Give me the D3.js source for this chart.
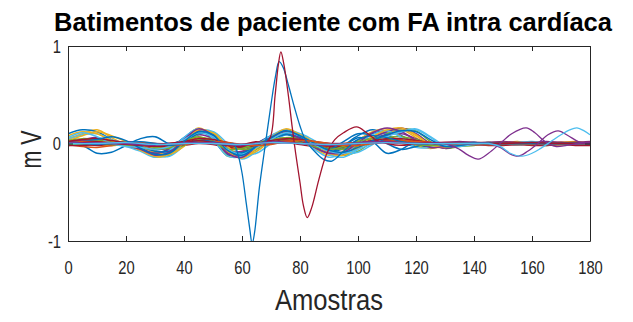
<!DOCTYPE html>
<html>
<head>
<meta charset="utf-8">
<script src="https://cdn.jsdelivr.net/npm/d3@7"></script>
<style>
  body { margin: 0; background: #fff; }
  text { font-family: "Liberation Sans", Arial, sans-serif; }
</style>
</head>
<body>
<svg id="chart" width="633" height="322"></svg>
<script>
// amostras (eixo x) comuns a todos os batimentos normais
var sampleX = [0,5,10,15,20,25,30,35,40,45,50,55,60,65,70,75,80,85,90,95,100,105,110,115,120,125,130,135,140,145,150,155,160,165,170,175,180];

var xTicks = [0,20,40,60,80,100,120,140,160,180];
var yTicks = [-1,0,1];

// batimentos "planos" perto de zero
var flat01 = [0.0,0.0,-0.01,-0.01,0.0, 0.0,-0.02,-0.02,0.0,0.02, 0.01,-0.02,-0.02,0.0,0.02, 0.03,0.01,-0.01,-0.03,-0.02, 0.0,0.02,0.03,0.02,0.0, -0.01,0.0,0.0,0.0,0.0, 0.0,0.0,0.0,0.0,0.0, 0.0,0.0];
var flat02 = [0.02,0.02,0.01,0.01,0.02, 0.01,0.0,0.0,0.02,0.03, 0.02,0.0,-0.01,0.01,0.02, 0.04,0.03,0.01,0.0,0.0, 0.01,0.02,0.03,0.03,0.02, 0.01,0.01,0.02,0.01,0.01, 0.02,0.01,0.01,0.02,0.01, 0.01,0.02];
var flat03 = [-0.02,-0.01,-0.02,-0.02,-0.01, -0.02,-0.03,-0.03,-0.02,0.0, -0.01,-0.04,-0.04,-0.02,0.0, 0.01,-0.01,-0.03,-0.04,-0.03, -0.02,0.0,0.01,0.0,-0.02, -0.03,-0.02,-0.02,-0.01,-0.02, -0.02,-0.01,-0.02,-0.02,-0.01, -0.02,-0.02];
var flat04 = [0.01,0.03,0.02,0.0,-0.01, -0.03,-0.05,-0.04,0.01,0.06, 0.03,-0.04,-0.05,-0.01,0.03, 0.06,0.03,-0.02,-0.05,-0.04, 0.0,0.04,0.06,0.04,0.01, -0.02,-0.01,0.0,0.0,0.01, 0.0,0.0,0.01,0.0,0.0, 0.01,0.0];
var flat05 = [0.0,0.01,0.03,0.02,0.01, 0.0,-0.02,-0.03,-0.01,0.03, 0.04,0.0,-0.04,-0.03,0.0, 0.04,0.04,0.01,-0.02,-0.04, -0.03,0.01,0.04,0.05,0.03, 0.0,-0.01,0.0,0.0,0.0, -0.01,0.0,0.0,0.0,-0.01, 0.0,0.0];
var flat06 = [-0.01,-0.03,-0.04,-0.02,0.0, 0.01,0.0,-0.01,0.0,0.02, 0.01,-0.01,-0.02,0.0,0.01, 0.02,0.01,0.0,-0.01,-0.01, 0.0,0.01,0.02,0.01,0.0, 0.0,0.0,-0.01,0.0,0.0, 0.0,-0.01,0.0,0.0,0.0, 0.0,-0.01];
var flat07 = [0.03,0.05,0.04,0.02,0.01, -0.01,-0.04,-0.05,-0.02,0.04, 0.05,-0.01,-0.06,-0.04,0.02, 0.06,0.05,0.0,-0.04,-0.06, -0.03,0.02,0.06,0.07,0.04, 0.0,-0.02,-0.01,0.0,0.0, 0.0,0.0,0.0,0.0,0.0, 0.0,0.0];
var flat08 = [0.01,0.0,0.01,0.0,-0.01, -0.01,-0.02,0.0,0.01,0.02, 0.0,-0.02,-0.01,0.0,0.01, 0.02,0.0,-0.01,-0.02,0.0, 0.01,0.01,0.02,0.0,0.0, 0.0,0.01,0.0,-0.01,0.0, 0.01,0.0,-0.01,0.0,0.01, 0.0,0.0];
var flat09 = [-0.01,0.0,0.0,-0.01,-0.02, -0.04,-0.06,-0.04,0.02,0.07, 0.02,-0.06,-0.05,0.0,0.04, 0.05,0.01,-0.03,-0.06,-0.03, 0.02,0.05,0.05,0.02,-0.01, -0.02,-0.01,0.0,0.0,0.0, 0.0,0.0,0.0,0.0,0.0, 0.0,0.0];
var flat10 = [0.0,0.02,0.02,0.01,0.0, -0.01,-0.01,-0.02,-0.01,0.01, 0.02,0.01,-0.01,-0.02,-0.01, 0.02,0.03,0.02,0.0,-0.02, -0.02,0.0,0.02,0.03,0.02, 0.01,0.0,0.0,0.0,0.0, 0.0,0.0,0.0,0.0,0.0, 0.0,0.0];
var flat11 = [0.01,0.01,0.0,0.0,0.0, -0.01,-0.03,-0.03,0.0,0.04, 0.02,-0.03,-0.04,-0.01,0.02, 0.04,0.02,-0.02,-0.04,-0.03, 0.0,0.03,0.04,0.03,0.01, -0.01,-0.01,0.0,0.0,0.0, 0.0,0.0,0.0,0.0,0.0, 0.0,0.0];
var flat12 = [-0.02,-0.02,-0.01,0.0,0.0, 0.0,-0.01,-0.02,-0.01,0.01, 0.0,-0.02,-0.03,-0.02,0.0, 0.02,0.01,-0.01,-0.03,-0.03, -0.01,0.01,0.02,0.02,0.0, -0.01,-0.01,-0.01,-0.01,0.0, -0.01,-0.01,0.0,-0.01,-0.01, 0.0,-0.01];
var flat13 = [0.02,0.04,0.05,0.03,0.01, 0.0,-0.01,0.0,0.02,0.05, 0.04,0.01,-0.02,0.0,0.03, 0.05,0.04,0.02,0.0,-0.01, 0.0,0.03,0.05,0.05,0.03, 0.01,0.01,0.01,0.01,0.01, 0.01,0.01,0.01,0.01,0.01, 0.01,0.01];

// batimentos com oscilação de FA
var osc01 = [0.02,0.03,0.01,-0.01,-0.02, -0.06,-0.11,-0.07,0.05,0.14, 0.06,-0.11,-0.09,0.0,0.08, 0.12,0.04,-0.04,-0.09,-0.05, 0.04,0.1,0.13,0.08,0.0, -0.04,-0.02,0.0,0.01,0.0, 0.01,0.0,-0.01,0.01,0.0, 0.0,0.01];
var osc02 = [0.05,0.1,0.14,0.06,-0.01, -0.04,-0.09,-0.1,0.02,0.12, 0.08,-0.08,-0.12,-0.02,0.06, 0.1,0.05,-0.02,-0.08,-0.1, -0.02,0.07,0.12,0.14,0.06, -0.03,-0.04,-0.01,0.0,0.01, 0.0,0.02,-0.01,0.0,0.01, 0.02,0.0];
var osc03 = [0.0,0.02,0.04,0.02,0.0, -0.05,-0.13,-0.12,0.0,0.11, 0.1,-0.05,-0.14,-0.06,0.04, 0.11,0.08,0.0,-0.06,-0.12, -0.08,0.02,0.1,0.15,0.13, 0.02,-0.05,-0.03,-0.02,0.0, 0.01,-0.01,0.0,-0.02,0.0, 0.01,-0.01];
var osc04 = [0.01,0.0,-0.01,0.0,0.01, -0.02,-0.07,-0.09,-0.02,0.09, 0.12,0.0,-0.11,-0.1,0.0, 0.09,0.1,0.03,-0.05,-0.1, -0.09,-0.01,0.08,0.13,0.14, 0.06,-0.03,-0.02,0.0,0.01, 0.0,0.01,0.02,0.0,0.0, -0.01,0.0];
var osc05 = [0.1,0.14,0.12,0.04,-0.02, -0.06,-0.1,-0.05,0.06,0.15, 0.04,-0.12,-0.1,-0.01,0.07, 0.13,0.06,-0.03,-0.1,-0.02, 0.08,0.14,0.09,0.01,-0.03, -0.02,0.0,0.0,0.01,0.0, 0.0,-0.01,0.0,0.01,0.0, 0.0,0.0];
var osc06 = [0.0,0.01,0.0,-0.02,-0.01, -0.04,-0.14,-0.1,0.03,0.16, 0.07,-0.13,-0.12,-0.02,0.06, 0.11,0.04,-0.05,-0.12,-0.08, 0.03,0.12,0.15,0.07,-0.02, -0.05,-0.02,0.0,0.0,-0.01, 0.0,0.01,0.0,0.0,-0.01, 0.0,0.0];
var osc07 = [0.02,0.03,0.05,0.03,0.0, -0.03,-0.06,-0.05,0.02,0.09, 0.05,-0.07,-0.08,0.0,0.07, 0.1,0.04,-0.01,-0.05,-0.06, 0.0,0.06,0.09,0.1,0.05, -0.01,-0.02,0.0,0.0,0.01, 0.0,0.0,0.0,0.01,0.0, 0.0,0.0];
var osc08 = [0.0,-0.02,-0.1,-0.09,-0.02, 0.05,0.07,0.0,0.04,0.12, 0.06,-0.1,-0.11,-0.03,0.05, 0.1,0.03,-0.04,-0.09,-0.03, 0.06,0.02,-0.1,-0.06,0.02, 0.0,-0.01,0.0,0.01,0.0, 0.0,0.0,0.01,0.0,0.0, 0.0,0.0];
var osc09 = [0.03,0.08,0.12,0.08,0.02, -0.02,-0.08,-0.11,-0.03,0.1, 0.11,-0.03,-0.13,-0.08,0.03, 0.12,0.09,0.01,-0.07,-0.11, -0.05,0.05,0.13,0.15,0.08, -0.02,-0.04,-0.01,0.0,0.0, 0.0,0.0,0.0,0.0,0.0, 0.0,0.0];
var osc10 = [0.02,0.04,0.06,0.02,-0.01, -0.05,-0.1,-0.06,0.05,0.13, 0.06,-0.1,-0.13,-0.04,0.05, 0.14,0.07,-0.02,-0.09,-0.11, -0.03,0.06,0.12,0.16,0.1, 0.0,-0.05,-0.02,0.0,0.0, 0.01,0.0,0.0,0.0,0.01, 0.0,0.0];
var osc11 = [0.0,0.01,0.0,0.0,0.0, -0.03,-0.08,-0.08,0.0,0.1, 0.08,-0.06,-0.1,-0.03,0.04, 0.09,0.06,0.0,-0.06,0.02, 0.1,0.08,0.0,-0.06,-0.03, 0.0,0.0,0.0,0.0,0.0, 0.0,0.0,0.0,0.0,0.0, 0.0,0.0];
var osc12 = [0.08,0.12,0.1,0.03,-0.01, -0.07,-0.13,-0.11,0.01,0.14, 0.1,-0.08,-0.15,-0.05,0.06, 0.15,0.09,-0.01,-0.1,-0.12, -0.04,0.07,0.14,0.16,0.09, -0.01,-0.04,-0.01,0.0,0.0, 0.0,0.0,0.0,0.0,0.0, 0.0,0.0];
var osc13 = [0.01,0.02,0.01,0.0,-0.02, -0.06,-0.12,-0.09,0.04,0.15, 0.08,-0.1,-0.14,-0.03,0.06, 0.12,0.05,-0.04,-0.1,-0.09, 0.01,0.11,0.16,0.12,0.03, -0.04,-0.03,0.0,0.0,0.0, 0.0,0.0,0.0,0.0,0.0, 0.0,0.0];
var osc14 = [0.0,0.02,0.04,0.07,0.03, -0.05,-0.11,-0.1,0.02,0.12, 0.09,-0.07,-0.12,-0.03,0.06, 0.13,0.08,0.0,-0.07,-0.09, -0.04,0.03,0.09,0.13,0.12, 0.04,-0.03,-0.02,0.0,0.0, 0.0,0.0,0.0,0.0,0.0, 0.0,0.0];
var osc15 = [0.04,0.09,0.1,0.04,0.0, -0.04,-0.12,-0.13,-0.02,0.13, 0.12,-0.04,-0.16,-0.08,0.05, 0.14,0.1,0.0,-0.11,-0.14, -0.06,0.04,0.12,0.15,0.1, 0.0,-0.04,-0.02,0.0,0.01, 0.0,-0.01,0.0,0.0,0.01, 0.0,0.0];
var osc16 = [-0.01,0.0,0.02,0.0,-0.03, -0.08,-0.14,-0.07,0.06,0.15, 0.05,-0.13,-0.13,-0.02,0.08, 0.14,0.05,-0.06,-0.14,-0.1, 0.0,0.09,0.13,0.06,-0.04, -0.04,-0.01,0.0,0.0,0.0, 0.01,0.0,0.0,-0.01,0.0, 0.0,0.0];
var osc17 = [0.06,0.11,0.07,0.0,-0.03, -0.04,-0.06,-0.03,0.04,0.11, 0.07,-0.06,-0.11,-0.04,0.04, 0.11,0.08,-0.01,-0.08,-0.1, -0.06,0.0,0.07,0.12,0.15, 0.07,-0.02,-0.03,-0.01,0.0, 0.0,0.0,0.01,0.0,0.0, 0.0,0.0];

// batimentos atípicos (amostragem própria)
var blueSpikeX = [0,5,10,15,20,25,30,35,40,45,50,55, 57,58.5,60,61.5,62.7,63.5,64.3, 66,68,70,71.5,72.8,74.2,76,78,80,82,85, 88,91,95,100,105,110,115,120,130,140,150,160,170,180];
var blueSpikeY = [0.01,0.0,-0.01,0.0,0.01,0.02,0.0,-0.02,0.0,0.03,0.02,-0.02, 0.0,-0.1,-0.3,-0.62,-0.88,-1.03,-0.92, -0.45,-0.02,0.4,0.68,0.84,0.78,0.6,0.38,0.18,0.03,-0.08, -0.16,-0.18,-0.08,0.04,0.08,0.06,0.02,0.0,0.0,0.01,0.0,0.0,0.0,0.0];

var redSpikeX = [0,5,10,15,20,25,30,35,40,45,50,55,60,65, 67.5,69.7,71.4,72.5,73.4,74.4,76,77.3,78.5,80,81.2,82.5,84,86.5,89,92,95,99.5,103,106,110,115,120,130,140,150,160,170,180];
var redSpikeY = [0.0,0.01,0.02,0.0,-0.01,-0.02,-0.03,-0.01,0.01,0.03,0.01,-0.02,-0.01,0.02, 0.0,0.06,0.49,0.8,0.94,0.82,0.49,0.17,-0.1,-0.4,-0.64,-0.76,-0.66,-0.37,-0.12,0.04,0.11,0.17,0.11,0.04,0.0,-0.02,0.0,0.01,0.0,0.0,0.01,0.0,0.0];

var purpleAX = [0,10,20,30,40,50,60,70,80,90,100,110,120,130,135,138,141.5,145,149,153,158,161,164.5,168,172,176,180];
var purpleAY = [0.0,0.01,0.0,-0.02,0.01,0.0,-0.02,0.02,0.0,-0.02,0.01,0.02,0.0,0.0,-0.06,-0.12,-0.16,-0.1,0.0,0.1,0.16,0.11,0.02,-0.03,-0.02,0.0,0.01];

var purpleBX = [0,10,20,30,40,50,60,70,80,90,100,110,120,130,140,145,149,152,155.3,158.5,162,165.5,169,172.5,176,180];
var purpleBY = [0.01,0.0,0.0,-0.01,0.0,0.01,-0.01,0.01,0.0,-0.01,0.0,0.01,0.0,0.0,0.0,0.0,-0.04,-0.1,-0.13,-0.08,0.0,0.09,0.13,0.08,0.02,0.0];

var cyanX = [0,10,20,30,40,50,60,70,80,90,100,110,120,130,140,145,149,152.5,156.5,160,163,166.5,170,173,175.5,178,180];
var cyanY = [0.0,0.0,0.01,-0.01,0.0,0.0,-0.01,0.01,0.0,-0.01,0.0,0.01,0.0,0.0,0.0,0.0,-0.03,-0.1,-0.13,-0.1,-0.05,0.02,0.09,0.14,0.16,0.13,0.09];

var normalBeats = [osc01, flat01, osc02, flat02, osc03, osc04, flat03, osc05, flat04, osc06, osc07, flat05,
                   osc15, flat11, osc08, flat06, osc09, osc10, flat07, osc16, flat12, osc11, flat08, osc12,
                   osc13, flat09, osc17, flat13, osc14, flat10];

var palette = ["#0072BD","#D95319","#EDB120","#7E2F8E","#77AC30","#4DBEEE","#A2142F"];

var svg = d3.select("#chart"),
    margin = {top: 46, right: 43, bottom: 81, left: 68},
    width = +svg.attr("width") - margin.left - margin.right,
    height = +svg.attr("height") - margin.top - margin.bottom,
    g = svg.append("g").attr("transform", "translate(" + margin.left + "," + margin.top + ")");

var x = d3.scaleLinear().domain([0, 180]).range([0, width]);
var y = d3.scaleLinear().domain([-1, 1]).range([height, 0]);

svg.append("defs").append("clipPath").attr("id", "plot-clip")
  .append("rect").attr("width", width).attr("height", height);

var line = d3.line()
    .x(function(d) { return x(d[0]); })
    .y(function(d) { return y(d[1]); })
    .curve(d3.curveCatmullRom.alpha(0.5));

var lines = g.append("g").attr("clip-path", "url(#plot-clip)");

normalBeats.forEach(function(vals, i) {
  lines.append("path")
    .datum(sampleX.map(function(v, j) { return [v, vals[j]]; }))
    .attr("fill", "none")
    .attr("stroke", palette[i % palette.length])
    .attr("stroke-width", 1.5)
    .attr("d", line);
});

var odd = [
  [blueSpikeX, blueSpikeY, "#0072BD"],
  [redSpikeX, redSpikeY, "#A2142F"],
  [purpleAX, purpleAY, "#7E2F8E"],
  [purpleBX, purpleBY, "#7E2F8E"],
  [cyanX, cyanY, "#4DBEEE"]
];
odd.forEach(function(s) {
  lines.append("path")
    .datum(s[0].map(function(v, j) { return [v, s[1][j]]; }))
    .attr("fill", "none")
    .attr("stroke", s[2])
    .attr("stroke-width", 1.3)
    .attr("d", line);
});

// caixa dos eixos
var axisColor = "#262626";
var narrow = 0.82;

var xb = g.append("g")
    .attr("transform", "translate(0," + height + ")")
    .call(d3.axisBottom(x).tickValues(xTicks).tickSize(-5).tickPadding(20).tickSizeOuter(0));
var xt = g.append("g")
    .call(d3.axisTop(x).tickValues(xTicks).tickSize(-5).tickSizeOuter(0).tickFormat(""));
var yl = g.append("g")
    .call(d3.axisLeft(y).tickValues(yTicks).tickSize(-5).tickSizeOuter(0).tickFormat(function(d) { return String(d); }));
var yr = g.append("g")
    .attr("transform", "translate(" + width + ",0)")
    .call(d3.axisRight(y).tickValues(yTicks).tickSize(-5).tickSizeOuter(0).tickFormat(""));

[xb, xt, yl, yr].forEach(function(a) {
  a.select(".domain").attr("stroke", axisColor);
  a.selectAll(".tick line").attr("stroke", axisColor);
  a.selectAll(".tick text")
    .attr("fill", axisColor)
    .style("font-size", "18px")
    .attr("transform", "scale(" + narrow + ",1)");
});
yl.selectAll(".tick text").attr("x", -7 / narrow).attr("dy", "0.36em");
xb.selectAll(".tick text").attr("dy", "0.72em");

svg.append("text")
    .attr("x", margin.left + width / 2 + 4)
    .attr("y", 31)
    .attr("text-anchor", "middle")
    .attr("fill", "#000")
    .style("font-size", "26px")
    .style("font-weight", "bold")
    .attr("textLength", 558)
    .attr("lengthAdjust", "spacingAndGlyphs")
    .text("Batimentos de paciente com FA intra cardíaca");

svg.append("text")
    .attr("x", margin.left + width / 2)
    .attr("y", 310)
    .attr("text-anchor", "middle")
    .attr("fill", axisColor)
    .style("font-size", "30px")
    .attr("textLength", 108)
    .attr("lengthAdjust", "spacingAndGlyphs")
    .text("Amostras");

svg.append("text")
    .attr("transform", "translate(41," + (margin.top + height / 2 + 6) + ") rotate(-90)")
    .attr("text-anchor", "middle")
    .attr("fill", axisColor)
    .style("font-size", "30px")
    .attr("textLength", 38)
    .attr("lengthAdjust", "spacingAndGlyphs")
    .text("m V");
</script>
</body>
</html>
